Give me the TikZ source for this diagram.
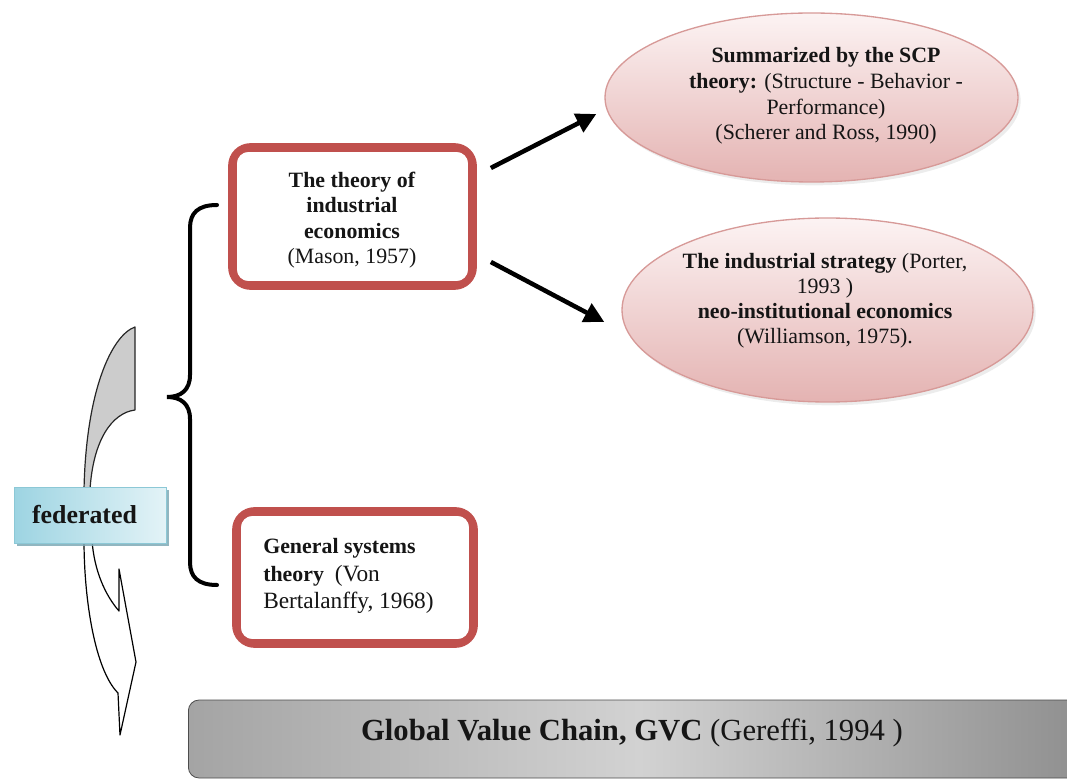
\documentclass[tikz,border=0pt]{standalone}
\usepackage{fontspec}
\setmainfont{LiberationSerif}[Extension=.ttf, UprightFont=*-Regular, BoldFont=*-Bold, ItalicFont=*-Italic, BoldItalicFont=*-BoldItalic]
\usetikzlibrary{shapes.geometric,arrows.meta,calc,shadows}
\definecolor{boxred}{HTML}{C0504D}
\definecolor{ellborder}{HTML}{D79A98}
\definecolor{elltop}{HTML}{FCF3F3}
\definecolor{ellbot}{HTML}{E4B3B2}
\definecolor{fedA}{HTML}{9DD4E2}
\definecolor{fedB}{HTML}{E3F3F7}
\definecolor{fedborder}{HTML}{8CC8D6}
\definecolor{fedshadow}{HTML}{7EA9B5}
\definecolor{txt}{HTML}{151515}
\definecolor{grayfill}{HTML}{CCCCCC}
\definecolor{barA}{HTML}{A4A4A4}
\definecolor{barB}{HTML}{D2D2D2}
\definecolor{barC}{HTML}{8E8E8E}
\begin{document}
\begin{tikzpicture}[x=0.75pt,y=-0.75pt,
  redbox/.style={rectangle, draw=boxred, line width=5.8pt, rounded corners=14pt, fill=white, inner sep=0pt},
  innerline/.style={draw=boxred, line width=1.1pt, rounded corners=9pt},
  oval/.style={ellipse, draw=ellborder, line width=1pt, top color=elltop, bottom color=ellbot, inner sep=0pt,
    drop shadow={opacity=0.15, shadow xshift=2pt, shadow yshift=-2.5pt}},
  boxtext/.style={text=txt, inner sep=0pt, font=\fontsize{16.4}{19}\selectfont},
  arr/.style={line width=3.4pt, -{Triangle[length=15pt,width=15pt]}},
  fedbox/.style={rectangle, draw=fedborder, line width=0.6pt, left color=fedA, right color=fedB, inner sep=0pt,
    minimum width=114pt, minimum height=42pt,
    drop shadow={fill=fedshadow, opacity=0.85, shadow xshift=2.5pt, shadow yshift=-2.5pt}},
  gvcbar/.style={rectangle, rounded corners=8pt, draw=gray!60!black, line width=0.6pt,
    left color=barA, right color=barC, middle color=barB, inner sep=0pt}
]
\useasboundingbox (0,0) rectangle (1067,780);

% curved arrow (back, grey part)
\filldraw[fill=grayfill, draw=black!85, line width=0.9pt, line join=round]
  (135,327) -- (135,410) .. controls (112,413) and (93,440) .. (90,490)
  -- (84,490) .. controls (86,390) and (112,335) .. (135,327) -- cycle;
% curved arrow (front, white part with head)
\filldraw[fill=white, draw=black, line width=0.9pt, line join=round]
  (84,540) .. controls (84,600) and (95,670) .. (118,693) -- (120,735) -- (136,662)
  -- (119,569) -- (119,611) .. controls (105,595) and (94,570) .. (92,540);

% federated box
\node[fedbox] (fed) at (90,515) {};
\node[text=txt, inner sep=0pt, font=\bfseries\fontsize{19.4}{22}\selectfont] (fedt) at (84.5,515) {federated};

% brace
\draw[line width=3pt, line cap=round]
  (217,205) .. controls (198,205) and (190,213) .. (190,228) -- (190,375)
  .. controls (190,390) and (181,397) .. (167,397)
  .. controls (181,397) and (190,404) .. (190,419) -- (190,562)
  .. controls (190,577) and (198,585) .. (217,585);

% box 1
\node[redbox, minimum width=180.75pt, minimum height=104.25pt] (b1) at (352.5,216.5) {};
\draw[innerline] ($(b1.north west)+(8,8)$) rectangle ($(b1.south east)+(-8,-8)$);
\node[boxtext, align=center] (b1t) at (352,220)
  {\textbf{The theory of}\\\textbf{industrial}\\\textbf{economics}\\(Mason, 1957)};

% box 2
\node[redbox, minimum width=178.5pt, minimum height=99.75pt] (b2) at (355,577.5) {};
\draw[innerline] ($(b2.north west)+(8,8)$) rectangle ($(b2.south east)+(-8,-8)$);
\node[boxtext, align=left, anchor=west, font=\fontsize{16.4}{20.5}\selectfont] (b2t) at (263,576)
  {\textbf{General systems}\\\textbf{theory}\ \ {\fontsize{17.5}{20.5}\selectfont(Von}\\{\fontsize{17.5}{20.5}\selectfont Bertalanffy, 1968)}};

% ellipse 1
\node[oval, minimum width=309.75pt, minimum height=126.75pt] (e1) at (811.5,97.5) {};
\node[boxtext, align=center, font=\fontsize{16.4}{19.2}\selectfont] (e1t) at (826,96)
  {\textbf{Summarized by the SCP}\\\textbf{theory:} (Structure - Behavior -\\Performance)\\(Scherer and Ross, 1990)};

% ellipse 2
\node[oval, minimum width=308.25pt, minimum height=138pt] (e2) at (827.5,310) {};
\node[boxtext, align=center, font=\fontsize{16.4}{18.8}\selectfont] (e2t) at (825,301)
  {\textbf{The industrial strategy} (Porter,\\1993 )\\\textbf{neo-institutional economics}\\(Williamson, 1975).};

% arrows
\coordinate (a1s) at ($(b1.east)+(14,-48.5)$);
\coordinate (a1e) at ($(e1.west)+(-8,16.5)$);
\coordinate (a2s) at ($(b1.east)+(14,45.5)$);
\coordinate (a2e) at ($(e2.west)+(-17,12)$);
\draw[arr] (a1s) -- (a1e);
\draw[arr] (a2s) -- (a2e);

% GVC bar
\node[gvcbar, anchor=west, minimum width=676.5pt, minimum height=58.5pt] (gvc) at (188,739) {};
\node[text=txt, inner sep=0pt, font=\fontsize{23}{26}\selectfont] (gvct) at (632,733)
  {\textbf{Global Value Chain, GVC} (Gereffi, 1994 )};
\end{tikzpicture}
\end{document}
